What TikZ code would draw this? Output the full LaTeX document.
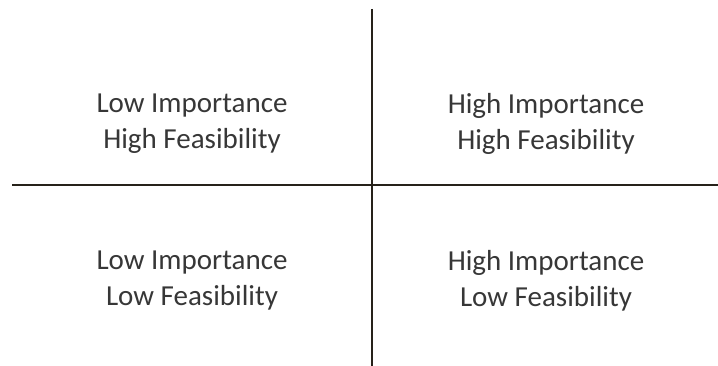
\documentclass[tikz,border=0pt]{standalone}
\usepackage{fontspec}
\setmainfont{Carlito}
\begin{document}
\begin{tikzpicture}[x=1pt,y=-1pt,
  axis/.style={line width=1.6pt,draw={rgb,255:red,38;green,34;blue,26}},
  lbl/.style={align=center,font=\fontsize{29}{36}\selectfont,text={rgb,255:red,55;green,55;blue,55},inner sep=0pt}]
\useasboundingbox (0,0) rectangle (718,366);
\coordinate (vt) at (372,9);
\coordinate (vb) at (372,366);
\coordinate (hl) at (12,185);
\coordinate (hr) at (718,185);
\draw[axis] (vt) -- (vb);
\draw[axis] (hl) -- (hr);
\node[lbl] (tl) at (192,124) {Low Importance\\High Feasibility};
\node[lbl] (tr) at (546,124) {High Importance\\High Feasibility};
\node[lbl] (bl) at (192,281) {Low Importance\\Low Feasibility};
\node[lbl] (br) at (546,281) {High Importance\\Low Feasibility};
\end{tikzpicture}
\end{document}
